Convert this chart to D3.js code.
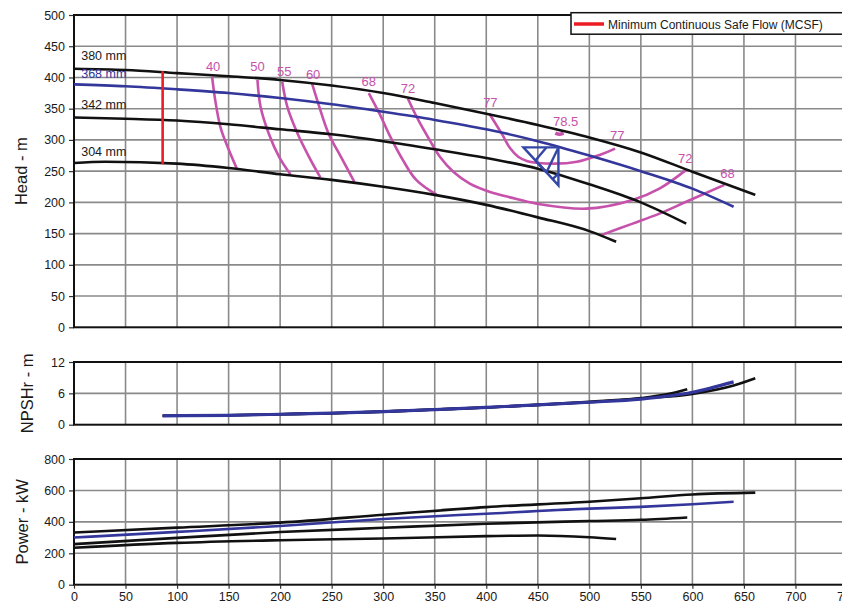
<!DOCTYPE html>
<html>
<head>
<meta charset="utf-8">
<script src="https://cdn.jsdelivr.net/npm/d3@7"></script>
<style>
body { margin: 0; background: #fff; }
svg { display: block; font-family: "Liberation Sans", Arial, sans-serif; }
</style>
</head>
<body>
<svg id="chart" width="842" height="603"></svg>
<script>
// -------------------- DATA -------------------- //
const flowTicks = [0, 50, 100, 150, 200, 250, 300, 350, 400, 450, 500, 550, 600, 650, 700, 750];
const headTicks = [0, 50, 100, 150, 200, 250, 300, 350, 400, 450, 500];
const npshTicks = [0, 6, 12];
const powerTicks = [0, 200, 400, 600, 800];

const impellerNames = ["380 mm", "368 mm", "342 mm", "304 mm"];
const impellerLabelPos = [[7, 428], [7, 399], [7, 349], [7, 275]];

// head curves  [flow m3/h, head m]
const head380 = [[0,414],[50,412],[100,407],[150,402],[200,396],[250,387],[300,375],[350,359],[400,342],[450,324],[500,304],[550,280],[600,249],[661,212]];
const head368 = [[0,389],[50,386],[100,381],[150,375],[200,367],[250,357],[300,345],[350,332],[400,317],[450,298],[500,275],[550,250],[600,222],[640,193]];
const head342 = [[0,336],[50,334],[100,331],[150,325],[200,317],[250,309],[300,298],[350,285],[400,271],[450,254],[500,229],[550,200],[594,166]];
const head304 = [[0,263],[30,265],[100,262],[150,255],[200,245],[250,236],[300,225],[350,212],[400,196],[450,176],[500,154],[526,137]];

// iso-efficiency curves
const effNames = ["40", "50", "55", "60", "68", "72", "77", "78.5", "77", "72", "68"];
const effLabelPos = [[135,411],[178,410],[204,402],[232,397],[286,386],[324,375],[404,352],[477,322],[527,300],[593,263],[634,239]];
const eff40 = [[134,401],[137,364],[142,321],[149,289],[158,254]];
const eff50 = [[178,396],[181,353],[189,310],[199,273],[210,245]];
const eff55 = [[202,393],[207,353],[217,310],[228,273],[239,240]];
const eff60 = [[231,390],[238,353],[247,310],[259,273],[272,233]];
const eff68a = [[286,375],[297,340],[306,308],[319,268],[332,236],[352,212]];
const eff72 = [[324,366],[334,332],[345,300],[355,273],[368,249],[384,230],[403,217],[423,208],[449,198],[497,190],[542,204],[568,222],[594,252]];
const eff77 = [[403,342],[415,310],[423,287],[431,273],[440,266],[465,262],[488,265],[510,276],[525,286]];
const eff785 = [[467,311],[471,309],[475,311]];
const eff68b = [[512,148],[542,166],[568,182],[594,201],[631,228]];

// best efficiency point, minimum continuous safe flow
const bepFlow = 470, bepHead = 288;
const mcsfFlow = 86, mcsfHeads = [261, 410];

// NPSHr curves
const npsh380 = [[86,1.7],[150,1.8],[200,2.0],[250,2.2],[300,2.5],[350,2.9],[400,3.3],[450,3.8],[500,4.3],[550,5.0],[600,5.9],[640,7.5],[661,8.9]];
const npsh342 = [[86,1.7],[150,1.8],[200,2.0],[250,2.2],[300,2.5],[350,2.9],[400,3.3],[450,3.8],[500,4.4],[550,5.1],[575,5.8],[595,6.8]];
const npsh368 = [[86,1.7],[150,1.8],[200,2.0],[250,2.2],[300,2.5],[350,2.9],[400,3.3],[450,3.8],[500,4.3],[550,4.9],[600,6.2],[640,8.2]];

// power curves
const power380 = [[0,332],[100,363],[200,395],[300,445],[400,494],[500,528],[550,550],[600,574],[661,586]];
const power368 = [[0,300],[100,336],[200,374],[300,418],[400,452],[500,484],[550,495],[600,512],[640,528]];
const power342 = [[0,258],[100,298],[200,335],[300,362],[400,388],[500,405],[550,413],[595,428]];
const power304 = [[0,235],[100,266],[200,283],[300,294],[400,309],[450,313],[500,302],[526,291]];

// -------------------- SETUP -------------------- //
const BLACK = "#111", BLUE = "#33369a", MAGENTA = "#c652ab", RED = "#ec1c24", GRID = "#8a8a8a";

const svg = d3.select("#chart");
const x = d3.scaleLinear().domain([0, 750]).range([74, 847]);

const yHead = d3.scaleLinear().domain([0, 500]).range([327.3, 15]);
const yNpsh = d3.scaleLinear().domain([0, 12]).range([424.7, 362]);
const yPower = d3.scaleLinear().domain([0, 800]).range([584.7, 459]);

function panel(y, ticks, title, titleX) {
    const g = svg.append("g");
    const [y0, y1] = y.range();
    // grid
    g.selectAll(".vg").data(flowTicks.slice(1)).join("line")
        .attr("x1", d => x(d)).attr("x2", d => x(d))
        .attr("y1", y1).attr("y2", y0)
        .attr("stroke", GRID).attr("stroke-width", 1.6);
    g.selectAll(".hg").data(ticks.slice(1, -1)).join("line")
        .attr("x1", x(0)).attr("x2", x(750))
        .attr("y1", d => y(d)).attr("y2", d => y(d))
        .attr("stroke", GRID).attr("stroke-width", 1.6);
    // axis
    const ax = g.append("g").attr("transform", `translate(${x(0)},0)`)
        .call(d3.axisLeft(y).tickValues(ticks).tickSize(5).tickPadding(4));
    ax.select(".domain").remove();
    ax.selectAll("line").attr("stroke", "#333").attr("stroke-width", 1.2);
    ax.selectAll("text").attr("font-size", 12.5).attr("fill", "#1a1a1a")
        .attr("font-family", "'Liberation Sans', Arial, sans-serif");
    // border
    g.append("rect").attr("x", x(0)).attr("y", y1).attr("width", x(750) - x(0)).attr("height", y0 - y1)
        .attr("fill", "none").attr("stroke", BLACK).attr("stroke-width", 2);
    // title
    g.append("text").attr("transform", `translate(${titleX},${(y0 + y1) / 2}) rotate(-90)`)
        .attr("text-anchor", "middle").attr("font-size", 16.5).attr("fill", "#1a1a1a").text(title);
    return g;
}

function curve(g, data, y, color, width, type) {
    g.append("path").datum(data)
        .attr("d", d3.line().x(d => x(d[0])).y(d => y(d[1])).curve(type || d3.curveMonotoneX))
        .attr("fill", "none").attr("stroke", color).attr("stroke-width", width)
        .attr("stroke-linecap", "butt").attr("stroke-linejoin", "round");
}

// -------------------- HEAD PANEL -------------------- //
const gHead = panel(yHead, headTicks, "Head - m", 27);

[eff40, eff50, eff55, eff60, eff68a, eff72, eff77, eff68b].forEach(e =>
    curve(gHead, e, yHead, MAGENTA, 2.6, d3.curveCatmullRom.alpha(0.5)));
curve(gHead, eff785, yHead, MAGENTA, 3.5, d3.curveCatmullRom.alpha(0.5));

gHead.selectAll(".effLabel").data(effNames).join("text")
    .attr("x", (d, i) => x(effLabelPos[i][0])).attr("y", (d, i) => yHead(effLabelPos[i][1]))
    .attr("text-anchor", "middle").attr("font-size", 13).attr("fill", MAGENTA).text(d => d);

curve(gHead, head380, yHead, BLACK, 2.6);
curve(gHead, head342, yHead, BLACK, 2.6);
curve(gHead, head304, yHead, BLACK, 2.6);
curve(gHead, head368, yHead, BLUE, 2.6);

gHead.selectAll(".impLabel").data(impellerNames).join("text")
    .attr("x", (d, i) => x(impellerLabelPos[i][0])).attr("y", (d, i) => yHead(impellerLabelPos[i][1]))
    .attr("font-size", 12.5).attr("fill", (d, i) => i === 1 ? BLUE : "#1a1a1a").text(d => d);

// MCSF
gHead.append("line").attr("x1", x(mcsfFlow)).attr("x2", x(mcsfFlow))
    .attr("y1", yHead(mcsfHeads[0])).attr("y2", yHead(mcsfHeads[1]))
    .attr("stroke", RED).attr("stroke-width", 2.6);

// BEP triangle
const bx = x(bepFlow), by = yHead(bepHead);
const tri = gHead.append("g").attr("stroke", "#3347a6").attr("stroke-width", 2.4).attr("fill", "none")
    .attr("stroke-linejoin", "miter");
tri.append("path").attr("d", `M${bx - 35},${by} L${bx},${by} L${bx},${by + 38} Z`);
tri.append("path").attr("d", `M${bx - 23},${by + 13} L${bx - 12},${by} M${bx - 12},${by + 25} L${bx},${by} M${bx - 12},${by + 25} L${bx - 23},${by + 13} M${bx - 6},${by + 32} L${bx},${by + 26}`);

// legend
const leg = svg.append("g");
leg.append("rect").attr("x", 571).attr("y", 12.7).attr("width", 290).attr("height", 21.5)
    .attr("fill", "#fff").attr("stroke", BLACK).attr("stroke-width", 1.5);
leg.append("line").attr("x1", 574).attr("x2", 604).attr("y1", 24).attr("y2", 24)
    .attr("stroke", RED).attr("stroke-width", 3.5);
leg.append("text").attr("x", 608).attr("y", 28.5).attr("font-size", 12).attr("fill", "#1a1a1a")
    .text("Minimum Continuous Safe Flow (MCSF)");

// -------------------- NPSH PANEL -------------------- //
const gNpsh = panel(yNpsh, npshTicks, "NPSHr - m", 33);
curve(gNpsh, npsh380, yNpsh, BLACK, 2.6);
curve(gNpsh, npsh342, yNpsh, BLACK, 2.6);
curve(gNpsh, npsh368, yNpsh, BLUE, 3.2);

// -------------------- POWER PANEL -------------------- //
const gPower = panel(yPower, powerTicks, "Power - kW", 28);
curve(gPower, power304, yPower, BLACK, 2.6);
curve(gPower, power342, yPower, BLACK, 2.6);
curve(gPower, power380, yPower, BLACK, 2.6);
curve(gPower, power368, yPower, BLUE, 2.6);

const xAx = gPower.append("g").attr("transform", `translate(0,${yPower(0)})`)
    .call(d3.axisBottom(x).tickValues(flowTicks).tickSize(4).tickPadding(3));
xAx.select(".domain").remove();
xAx.selectAll("line").attr("stroke", "#333").attr("stroke-width", 1.2);
xAx.selectAll("text").attr("font-size", 12.5).attr("fill", "#1a1a1a")
    .attr("font-family", "'Liberation Sans', Arial, sans-serif");
</script>
</body>
</html>
